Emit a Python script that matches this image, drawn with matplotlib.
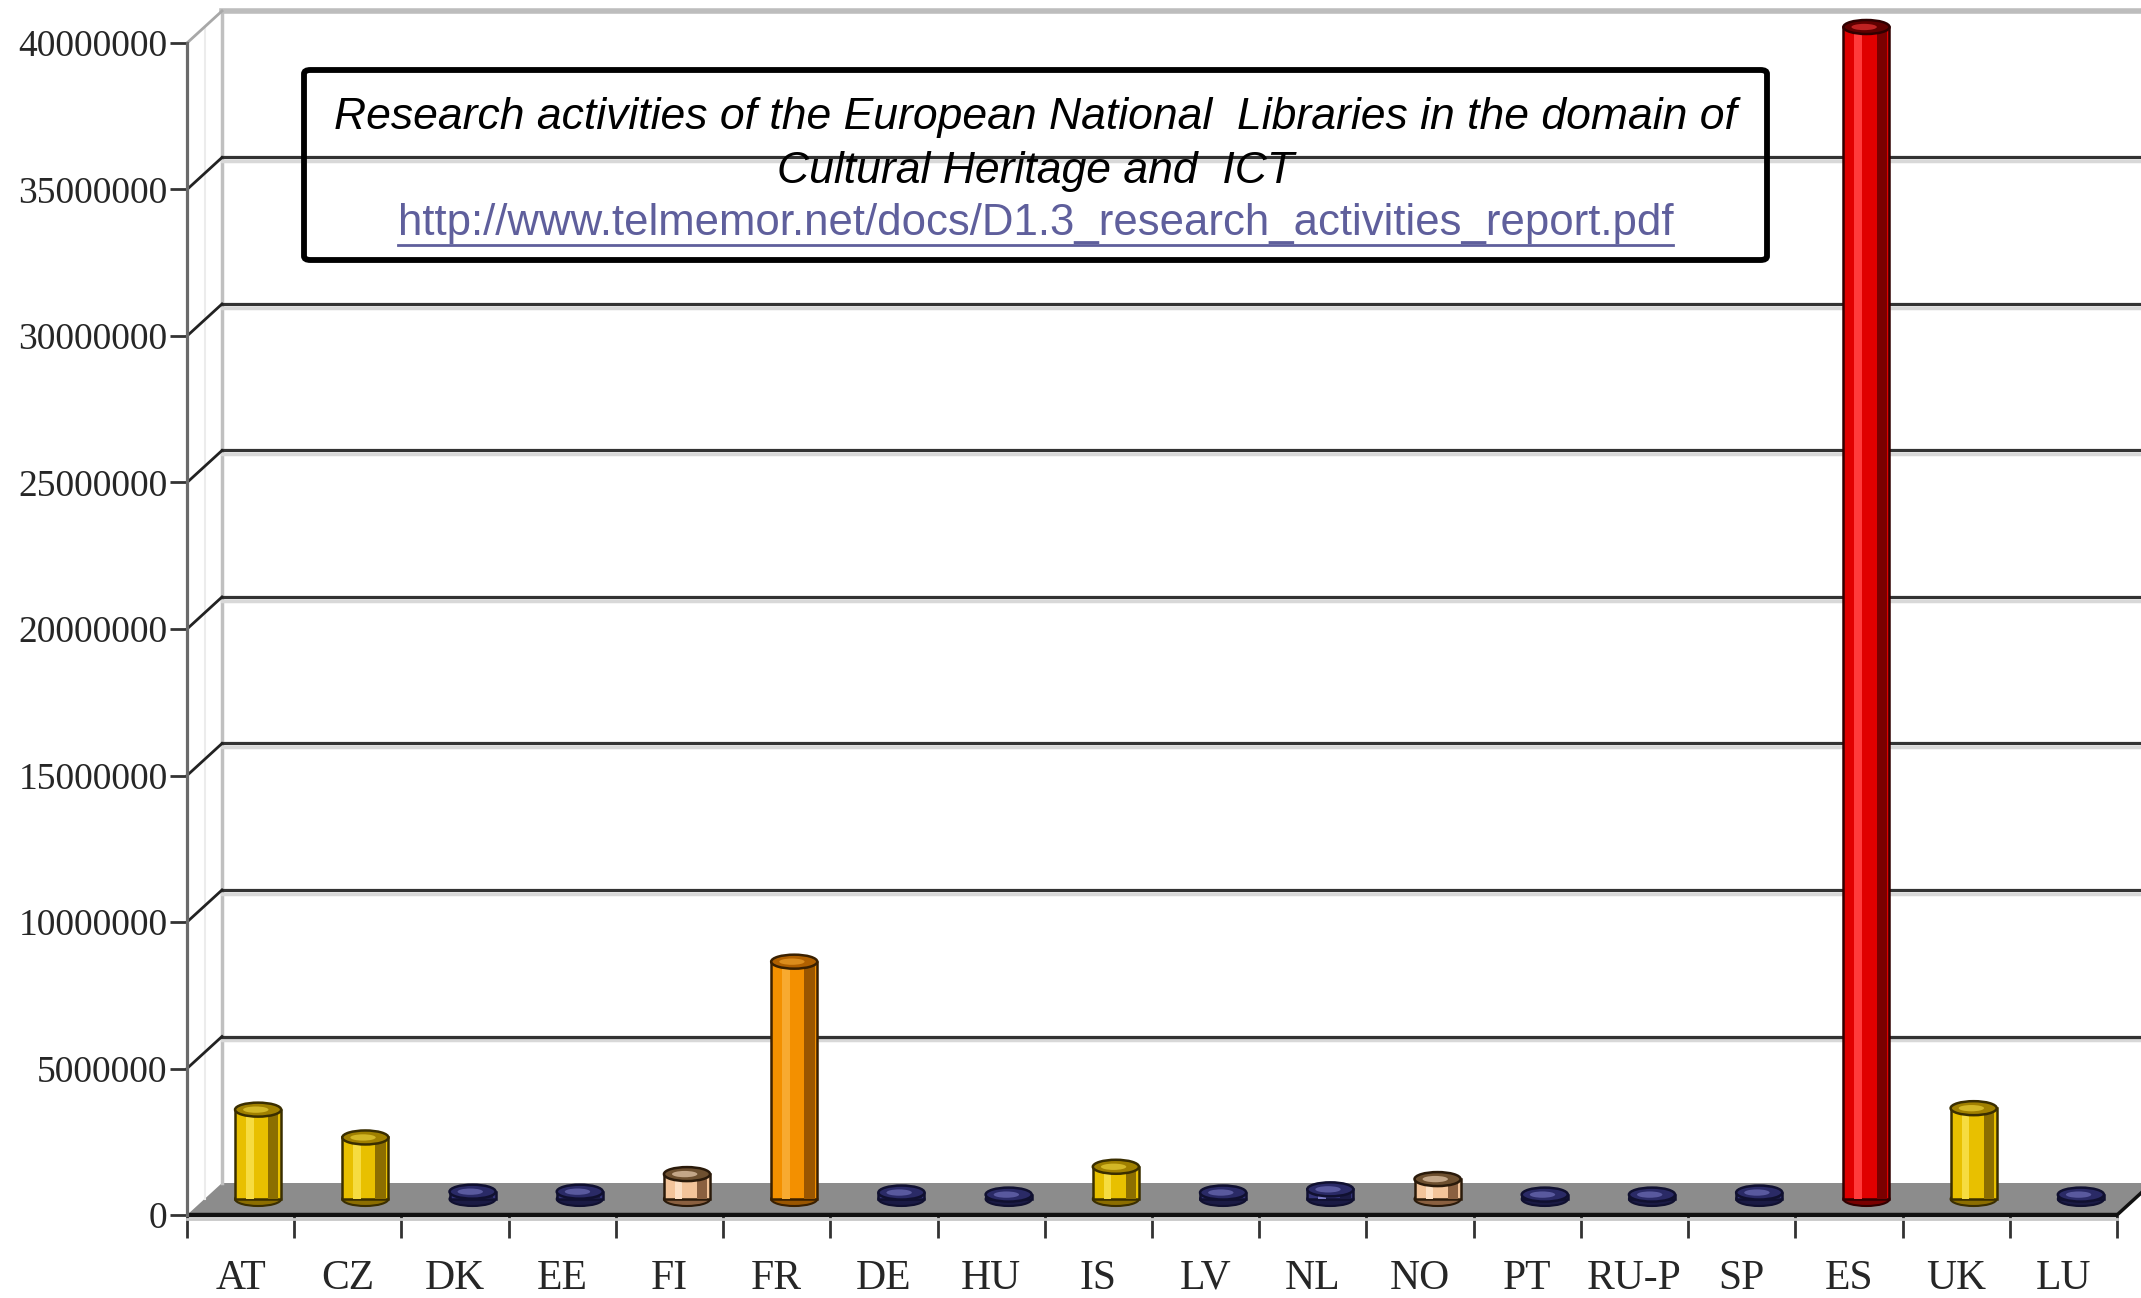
import matplotlib
matplotlib.use("Agg")
import matplotlib.pyplot as plt
from matplotlib.patches import Ellipse, Polygon, FancyBboxPatch
from matplotlib.lines import Line2D

# ---------------- data ----------------
countries = ["AT", "CZ", "DK", "EE", "FI", "FR", "DE", "HU", "IS", "LV",
             "NL", "NO", "PT", "RU-P", "SP", "ES", "UK", "LU"]
values = [3050000, 2100000, 250000, 250000, 850000, 8100000, 220000, 150000,
          1100000, 220000, 330000, 680000, 150000, 150000, 220000, 40000000,
          3100000, 150000]
yticks = [0, 5000000, 10000000, 15000000, 20000000, 25000000, 30000000,
          35000000, 40000000]
ytick_labels = ["0", "5000000", "10000000", "15000000", "20000000",
                "25000000", "30000000", "35000000", "40000000"]
title_lines = ["Research activities of the European National  Libraries in the domain of",
               "Cultural Heritage and  ICT"]
url_text = "http://www.telmemor.net/docs/D1.3_research_activities_report.pdf"

# styles (kept separate from data)
kind = ["y", "y", "n", "n", "p", "o", "n", "n", "y", "n",
        "n", "p", "n", "n", "n", "r", "y", "n"]
palette = {
    "y": dict(body="#e8c000", light="#f6dc40", dark="#8c6e00", top="#a08000", edge="#3a2e00"),
    "o": dict(body="#f39000", light="#f8aa30", dark="#9a5600", top="#b06000", edge="#3a2000"),
    "r": dict(body="#e00000", light="#ff3a3a", dark="#7a0000", top="#600000", edge="#300000"),
    "p": dict(body="#f3c49a", light="#fde0c4", dark="#8a6040", top="#6e5030", edge="#2a1a0a"),
    "n": dict(body="#333377", light="#7a7ac4", dark="#1a1a44", top="#2a2a66", edge="#101030"),
}

W, H = 2141, 1298
fig = plt.figure(figsize=(W / 100, H / 100), dpi=100)
fig.patch.set_facecolor("white")

AX_L, AX_R, AX_B, AX_T = 187, 2117, 1215, 43
ax = fig.add_axes([AX_L / W, (H - AX_B) / H, (AX_R - AX_L) / W, (AX_B - AX_T) / H])
ax.set_xlim(0, len(countries))
ax.set_ylim(0, 40000000)
ax.set_facecolor("none")

# depth offset (pixels -> data)
DX_PX, DY_PX = 35, 32
dx = DX_PX * len(countries) / (AX_R - AX_L)
dy = DY_PX * 40000000 / (AX_B - AX_T)
n = len(countries)

# floor
floor = Polygon([(0, 0), (n, 0), (n + dx, dy), (dx, dy)], closed=True,
                facecolor="#8c8c8c", edgecolor="none", zorder=1, clip_on=False)
ax.add_patch(floor)
ax.plot([0, n], [0, 0], color="#111111", lw=3.2, zorder=2, clip_on=False,
        solid_capstyle="butt")
ax.plot([0, n], [-0.12e6, -0.12e6], color="#c8c8c8", lw=2, zorder=2, clip_on=False)
ax.plot([n, n + dx], [0, dy], color="#111111", lw=2.5, zorder=2, clip_on=False)

# back wall
ax.plot([dx, dx], [dy, 40000000 + dy], color="#c0c0c0", lw=2.5, zorder=1, clip_on=False)
ax.plot([dx * 0.5, dx * 0.5], [dy * 0.5, 40000000 + dy * 0.5], color="#ececec",
        lw=1.5, zorder=1, clip_on=False)
for v in yticks[1:-1]:
    ax.plot([dx, n + 1], [v + dy - 0.12e6, v + dy - 0.12e6], color="#d8d8d8", lw=2.5,
            zorder=1, clip_on=False)
    ax.plot([dx, n + 1], [v + dy, v + dy], color="#333333", lw=2.3, zorder=1.2,
            clip_on=False)
    ax.plot([0, dx], [v, v + dy], color="#222222", lw=2.0, zorder=1.2, clip_on=False)
top = yticks[-1]
ax.plot([dx, n + 1], [top + dy, top + dy], color="#bdbdbd", lw=4, zorder=1, clip_on=False)
ax.plot([0, dx], [top, top + dy], color="#a8a8a8", lw=2.0, zorder=1, clip_on=False)

# bars (cylinders)
bw = 0.43
eh = 14 * 40000000 / (AX_B - AX_T)
for i, (v, k) in enumerate(zip(values, kind)):
    c = palette[k]
    xc = i + 0.5 + dx * 0.5
    base = dy * 0.5
    ax.add_patch(Ellipse((xc, base), bw, eh, facecolor=c["dark"], edgecolor=c["edge"],
                         lw=1.5, zorder=3, clip_on=False))
    b = ax.bar(xc, v, bottom=base, width=bw, color=c["body"], edgecolor=c["edge"],
               linewidth=1.8, zorder=4)
    b1 = ax.bar(xc - bw * 0.18, v, bottom=base, width=bw * 0.16, color=c["light"],
                linewidth=0, zorder=4.1)
    b2 = ax.bar(xc + bw * 0.33, v, bottom=base, width=bw * 0.22, color=c["dark"],
                linewidth=0, zorder=4.1)
    for cont in (b, b1, b2):
        for p in cont:
            p.set_clip_on(False)
    ax.add_patch(Ellipse((xc, base + v), bw, eh, facecolor=c["top"], edgecolor=c["edge"],
                         lw=1.8, zorder=5, clip_on=False))
    ax.add_patch(Ellipse((xc - bw * 0.05, base + v), bw * 0.55, eh * 0.45,
                         facecolor=c["light"], edgecolor="none", alpha=0.6, zorder=5.1,
                         clip_on=False))

# axes / ticks
for s in ["top", "right"]:
    ax.spines[s].set_visible(False)
ax.spines["bottom"].set_visible(False)
ax.spines["left"].set_color("#6a6a6a")
ax.spines["left"].set_linewidth(2.3)
ax.spines["left"].set_zorder(2)

ax.set_yticks(yticks)
ax.set_yticklabels(ytick_labels, family="Liberation Serif", fontsize=27,
                   color="#262626")
ax.tick_params(axis="y", length=12, width=2, color="#333333", pad=2)

ax.set_xticks(range(n + 1))
ax.set_xticklabels([""] * (n + 1))
ax.tick_params(axis="x", which="major", length=16.5, width=2, color="#333333")
ax.set_xticks([i + 0.5 for i in range(n)], minor=True)
ax.set_xticklabels(countries, minor=True, family="Liberation Serif", fontsize=30,
                   color="#262626")
ax.tick_params(axis="x", which="minor", length=0, pad=32)

# title box
bx0, by0, bx1, by1 = 304, 70, 1767, 260
box = FancyBboxPatch((bx0 / W, 1 - by1 / H), (bx1 - bx0) / W, (by1 - by0) / H,
                     boxstyle="round,pad=0,rounding_size=0.003",
                     transform=fig.transFigure, facecolor="none", edgecolor="black",
                     lw=4.2, zorder=10)
fig.patches.append(box)
cx = (bx0 + bx1) / 2 / W
fig.text(cx, 1 - 118 / H, title_lines[0], ha="center", va="center",
         family="Liberation Sans", style="italic", fontsize=32, color="black")
fig.text(cx, 1 - 172 / H, title_lines[1], ha="center", va="center",
         family="Liberation Sans", style="italic", fontsize=32, color="black")
ut = fig.text(cx, 1 - 223 / H, url_text, ha="center", va="center",
              family="Liberation Sans", fontsize=31.5, color="#5f5f9c")
fig.canvas.draw()
bb = ut.get_window_extent()
uy = bb.y0 - 1
fig.add_artist(Line2D([bb.x0 / W, bb.x1 / W], [uy / H, uy / H], color="#5f5f9c",
                      lw=2, transform=fig.transFigure))

fig.savefig("out.png", dpi=100)
